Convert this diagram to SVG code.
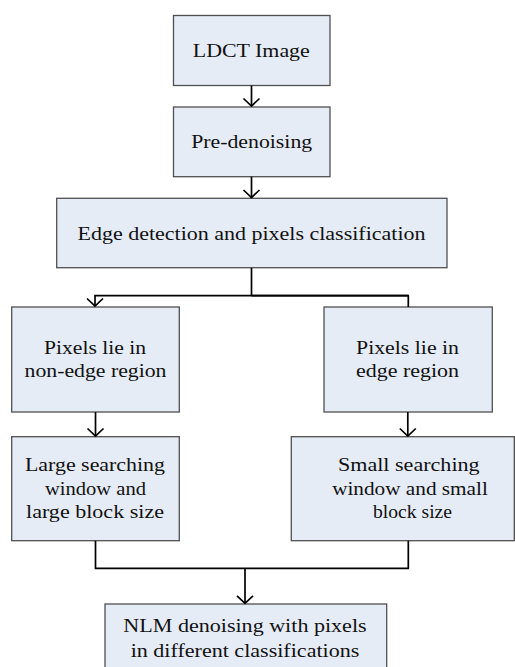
<svg xmlns="http://www.w3.org/2000/svg" width="515" height="667" viewBox="0 0 515 667">
<defs>
<style>
.box{fill:#e6ecf6;stroke:#505050;stroke-width:1.3}
.t{font-size:19.5px;fill:#111;text-anchor:middle}
.c{fill:none;stroke:#000;stroke-width:1.7}
</style>
<marker id="arr" markerUnits="userSpaceOnUse" viewBox="-10 -10 12 20" refX="0" refY="0" markerWidth="12" markerHeight="20" orient="auto">
<path d="M-7.5,-8 L0,0 L-7.5,8" fill="none" stroke="#000" stroke-width="1.7"/>
</marker>
</defs>
<rect width="515" height="667" fill="#fff"/>
<g id="n1"><rect class="box" x="173.5" y="15.5" width="156.5" height="70"/><text class="t" font-family="Liberation Serif" x="251.3" y="57.3" textLength="117" lengthAdjust="spacingAndGlyphs">LDCT Image</text></g>
<g id="n2"><rect class="box" x="173.5" y="107" width="156.5" height="69.7"/><text class="t" font-family="Liberation Serif" x="251.7" y="148.3" textLength="121" lengthAdjust="spacingAndGlyphs">Pre-denoising</text></g>
<g id="n3"><rect class="box" x="56.7" y="198.3" width="390.3" height="69.4"/><text class="t" font-family="Liberation Serif" x="251.5" y="240" textLength="348" lengthAdjust="spacingAndGlyphs">Edge detection and pixels classification</text></g>
<g id="n4"><rect class="box" x="11.7" y="307" width="167.6" height="105"/><text class="t" font-family="Liberation Serif" x="95" y="354" textLength="102" lengthAdjust="spacingAndGlyphs">Pixels lie in</text><text class="t" font-family="Liberation Serif" x="95.5" y="376.7" textLength="142" lengthAdjust="spacingAndGlyphs">non-edge region</text></g>
<g id="n5"><rect class="box" x="324" y="307" width="168.3" height="105"/><text class="t" font-family="Liberation Serif" x="407.5" y="354" textLength="103" lengthAdjust="spacingAndGlyphs">Pixels lie in</text><text class="t" font-family="Liberation Serif" x="407.5" y="376.7" textLength="103" lengthAdjust="spacingAndGlyphs">edge region</text></g>
<g id="n6"><rect class="box" x="11.7" y="436.7" width="167.6" height="104"/><text class="t" font-family="Liberation Serif" x="95" y="470.7" textLength="140" lengthAdjust="spacingAndGlyphs">Large searching</text><text class="t" font-family="Liberation Serif" x="95.5" y="495" textLength="101" lengthAdjust="spacingAndGlyphs">window and</text><text class="t" font-family="Liberation Serif" x="95" y="518.3" textLength="138" lengthAdjust="spacingAndGlyphs">large block size</text></g>
<g id="n7"><rect class="box" x="291.3" y="436.7" width="223" height="104"/><text class="t" font-family="Liberation Serif" x="408.8" y="470.7" textLength="141.7" lengthAdjust="spacingAndGlyphs">Small searching</text><text class="t" font-family="Liberation Serif" x="410" y="495" textLength="155.7" lengthAdjust="spacingAndGlyphs">window and small</text><text class="t" font-family="Liberation Serif" x="412.5" y="518" textLength="79" lengthAdjust="spacingAndGlyphs">block size</text></g>
<g id="n8"><rect class="box" x="105" y="604" width="281.7" height="80"/><text class="t" font-family="Liberation Serif" x="245" y="632.3" textLength="243.3" lengthAdjust="spacingAndGlyphs">NLM denoising with pixels</text><text class="t" font-family="Liberation Serif" x="245" y="656.7" textLength="228.7" lengthAdjust="spacingAndGlyphs">in different classifications</text></g>
<g id="connectors">
<path class="c" d="M251.5,85.5 V106" marker-end="url(#arr)"/>
<path class="c" d="M251.5,176.7 V197.5" marker-end="url(#arr)"/>
<path class="c" d="M251.5,267.7 V295.7 M408.3,295.7 H95 V306" marker-end="url(#arr)"/>
<path class="c" d="M251.5,295.7 H408.3 V307"/>
<path class="c" d="M95.5,412 V436" marker-end="url(#arr)"/>
<path class="c" d="M407.8,412 V436" marker-end="url(#arr)"/>
<path class="c" d="M95.5,540.7 V568.3 H408.3 V540.7"/>
<path class="c" d="M245,568.3 V603.3" marker-end="url(#arr)"/>
</g>
</svg>
